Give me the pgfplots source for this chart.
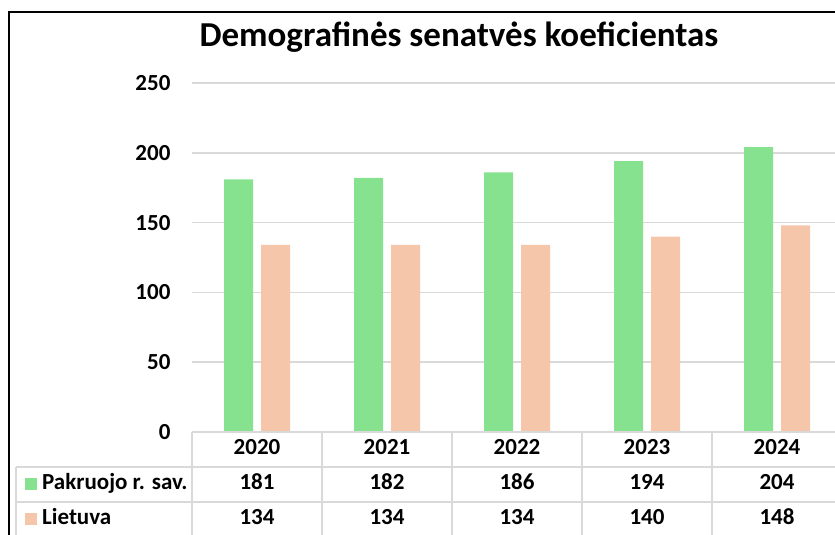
\documentclass[border=0pt]{standalone}
\usepackage{fontspec}
\setmainfont{Carlito}
\usepackage{pgfplots}
\pgfplotsset{compat=1.18}
\definecolor{grn}{HTML}{87E28F}
\definecolor{org}{HTML}{F6C6AB}
\definecolor{grd}{HTML}{D9D9D9}
\begin{document}
\begin{tikzpicture}[x=1pt,y=1pt]
\useasboundingbox (0,0) rectangle (835,535);
\begin{scope}
\clip (0,0) rectangle (835,535);
\draw[line width=2pt] (9,-10) -- (9,523) -- (900,523);
\begin{axis}[
  at={(192pt,103pt)}, anchor=south west,
  width=650pt, height=349pt, scale only axis,
  xmin=-0.5, xmax=4.5, ymin=0, ymax=250,
  ytick={0,50,100,150,200,250},
  xtick={0,1,2,3,4},
  xticklabels={2020,2021,2022,2023,2024},
  /pgf/number format/assume math mode=true,
  ymajorgrids, grid style={grd, line width=1.6pt},
  axis line style={draw=none},
  major tick length=0pt,
  tick label style={font=\fontsize{23}{23}\selectfont\bfseries},
  yticklabel style={anchor=east, xshift=-18pt},
  xticklabel style={anchor=base, yshift=-23pt},
  ybar=8pt, bar width=29pt,
  clip=false,
]
\addplot[ybar, fill=grn, draw=none] coordinates {(0,181) (1,182) (2,186) (3,194) (4,204)};
\addplot[ybar, fill=org, draw=none] coordinates {(0,134) (1,134) (2,134) (3,140) (4,148)};
\end{axis}
% data table grid
\begin{scope}[grd, line width=1.6pt]
\draw (192,103) -- (840,103);
\draw (16,68) -- (840,68);
\draw (16,33) -- (840,33);
\draw (16,68) -- (16,-5);
\foreach \x in {192,322,452,582,712} \draw (\x,103) -- (\x,-5);
\end{scope}
\fill[grn] (25,45) rectangle (37,57);
\fill[org] (25,10) rectangle (37,22);
\begin{scope}[font=\fontsize{23}{23}\selectfont\bfseries]
\node[anchor=base west, inner sep=0pt] at (42,45) {Pakruojo r. sav.};
\node[anchor=base west, inner sep=0pt] at (42,10) {Lietuva};
\foreach \v [count=\i from 0] in {181,182,186,194,204}
  \node[anchor=base, inner sep=0pt] at (257+130*\i,45) {\v};
\foreach \v [count=\i from 0] in {134,134,134,140,148}
  \node[anchor=base, inner sep=0pt] at (257+130*\i,10) {\v};
\end{scope}
\node[anchor=base, inner sep=0pt, font=\fontsize{35}{35}\selectfont\bfseries] at (459,488) {Demografinės senatvės koeficientas};
\end{scope}
\end{tikzpicture}
\end{document}
